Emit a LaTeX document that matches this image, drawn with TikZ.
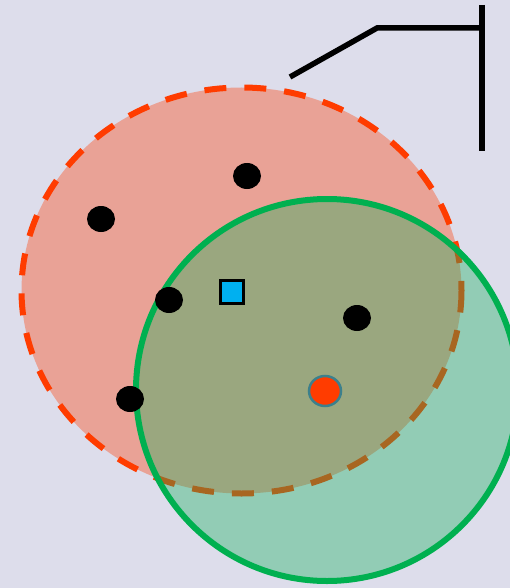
\documentclass[tikz,border=0pt]{standalone}
\usetikzlibrary{shapes.geometric}
\begin{document}
\begin{tikzpicture}[x=1pt,y=-1pt,
  dot/.style={ellipse,fill=black,inner sep=0pt,minimum width=28pt,minimum height=26pt},
  blk/.style={line width=5.5pt,draw=black}]
\definecolor{bg}{RGB}{221,221,235}
\definecolor{rred}{RGB}{255,60,0}
\definecolor{ggreen}{RGB}{0,176,80}
\definecolor{gfill}{RGB}{20,176,90}
\definecolor{sqblue}{RGB}{0,176,240}
\definecolor{teal2}{RGB}{60,128,140}
\fill[bg] (0,0) rectangle (510,588);
\useasboundingbox (0,0) rectangle (510,588);
% red ellipse
\path[fill=rred,fill opacity=0.36,draw=rred,line width=6pt,dash pattern=on 22pt off 18pt]
  (241.5,290.5) ellipse [x radius=220, y radius=203];
% green circle
\path[fill=gfill,fill opacity=0.37,draw=ggreen,line width=6pt]
  (327,390) circle [radius=191];
% black dots
\node[dot] (d1) at (247,176) {};
\node[dot] (d2) at (101,219) {};
\node[dot] (d3) at (169,300) {};
\node[dot] (d4) at (357,318) {};
\node[dot] (d5) at (130,399) {};
% blue square
\node[draw=black,line width=2.5pt,fill=sqblue,minimum width=23pt,minimum height=23pt,inner sep=0pt] (sq) at (232,292) {};
% red dot
\node[ellipse,draw=teal2,line width=2.5pt,fill=rred,minimum width=32pt,minimum height=30pt,inner sep=0pt] (rd) at (325,391) {};
% black lines
\coordinate (p1) at (290,77);
\coordinate (p2) at (377,28);
\coordinate (p3) at (482,28);
\coordinate (v1) at (482,5);
\coordinate (v2) at (482,151);
\draw[blk] (p1) -- (p2) -- (p3);
\draw[blk] (v1) -- (v2);
\end{tikzpicture}
\end{document}
